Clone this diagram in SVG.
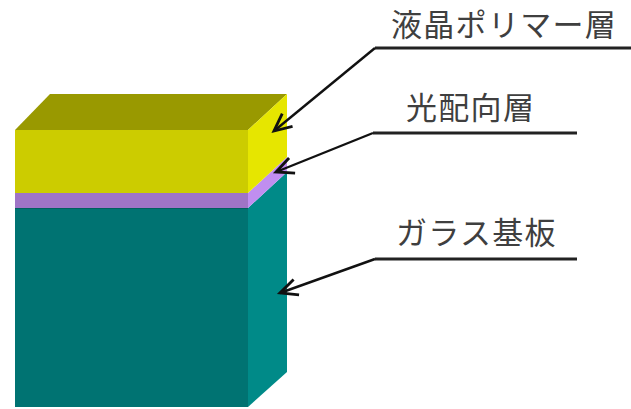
<svg xmlns="http://www.w3.org/2000/svg" width="631" height="409" viewBox="0 0 631 409">
  <style>
    .label { font-family: "Noto Sans CJK JP", "Noto Sans", sans-serif; font-size: 31px; letter-spacing: 1.3px; fill: #3f3f3f; }
    .leader { fill: none; stroke: #111; stroke-width: 2.4; }
    .rule { stroke: #222; stroke-width: 2.8; }
  </style>
  <defs>
    <marker id="openArrow" markerUnits="userSpaceOnUse" markerWidth="26" markerHeight="26" viewBox="-20 -11 24 22" refX="0" refY="0" orient="auto">
      <path d="M -16 -7.5 L 0 0 L -16 7.5" fill="none" stroke="#111" stroke-width="2.6" stroke-linejoin="miter"/>
    </marker>
  </defs>

  <rect width="631" height="409" fill="#ffffff"/>

  <!-- Glass substrate -->
  <g id="glass">
    <rect x="15" y="208" width="233" height="199" fill="#007372"/>
    <polygon points="248,208 287,172 287,372 248,407" fill="#008a88"/>
    <line x1="15" y1="208.5" x2="248" y2="208.5" stroke="#005f5e" stroke-width="1"/>
  </g>

  <!-- Photo-alignment layer -->
  <g id="alignment">
    <rect x="15" y="193" width="233" height="15" fill="#9f74c6"/>
    <polygon points="248,193 287,157 287,172 248,208" fill="#c08ef0"/>
  </g>

  <!-- Liquid crystal polymer layer -->
  <g id="lcp">
    <polygon points="15,130 50,94 287,94 248,130" fill="#999900"/>
    <rect x="15" y="130" width="233" height="63" fill="#cccc00"/>
    <polygon points="248,130 287,94 287,157 248,193" fill="#e6e600"/>
  </g>

  <!-- Leader lines -->
  <g id="connectors">
    <line class="rule" x1="375" y1="48" x2="631" y2="48"/>
    <line class="leader" x1="375" y1="48" x2="274" y2="131" marker-end="url(#openArrow)"/>
    <line class="rule" x1="373" y1="133" x2="577" y2="133"/>
    <line class="leader" x1="373" y1="133" x2="276" y2="172" marker-end="url(#openArrow)"/>
    <line class="rule" x1="375" y1="259" x2="577" y2="259"/>
    <line class="leader" x1="375" y1="259" x2="280" y2="293" marker-end="url(#openArrow)"/>
  </g>

  <!-- Labels -->
  <g id="label-lcp"><text class="label" x="391" y="36">液晶ポリマー層</text></g>
  <g id="label-alignment"><text class="label" x="406" y="119">光配向層</text></g>
  <g id="label-glass"><text class="label" x="396" y="244">ガラス基板</text></g>
</svg>
